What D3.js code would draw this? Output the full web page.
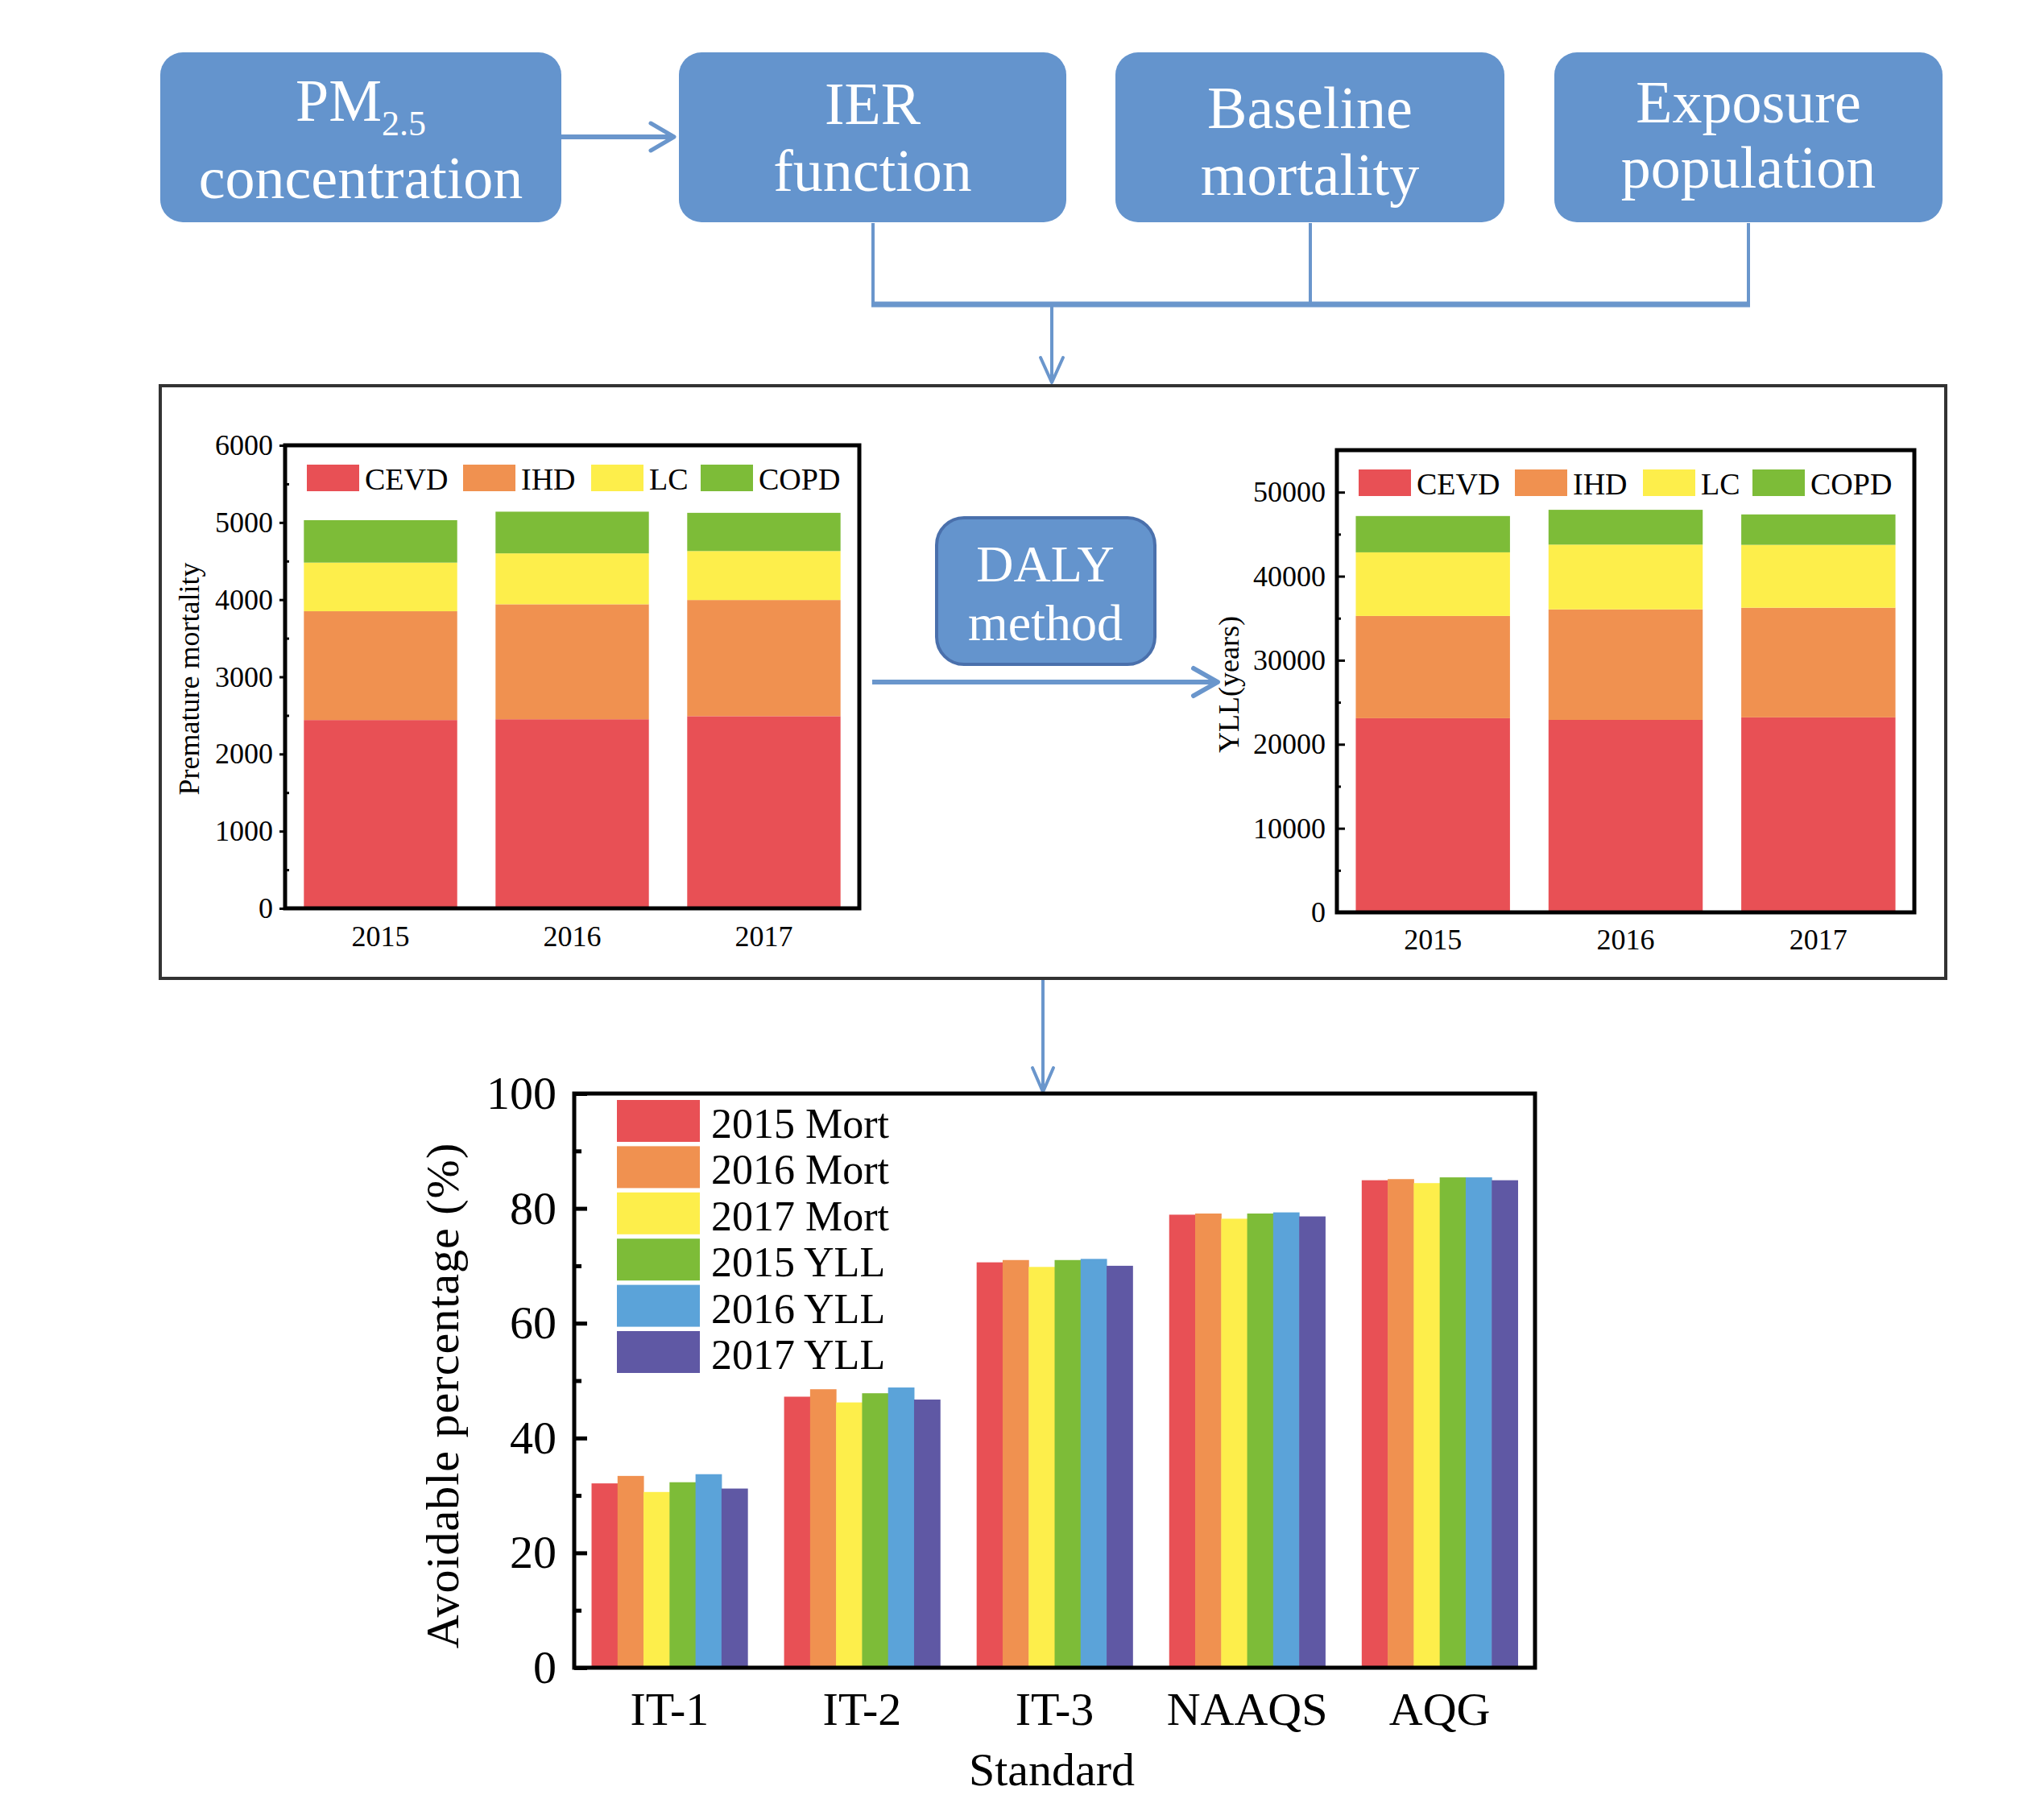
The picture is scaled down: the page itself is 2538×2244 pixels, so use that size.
<!DOCTYPE html>
<html>
<head>
<meta charset="utf-8">
<script src="https://cdn.jsdelivr.net/npm/d3@7/dist/d3.min.js"></script>
<style>
  body { margin: 0; background: #fff; }
  svg text { font-family: "Liberation Serif", "Times New Roman", serif; }
</style>
</head>
<body>
<div id="figure"></div>
<script>
// ---- data ----
var years = ["2015", "2016", "2017"];
var causes = ["CEVD", "IHD", "LC", "COPD"];

// premature mortality by cause
var mortCEVD = [2440, 2450, 2490];
var mortIHD  = [1410, 1490, 1505];
var mortLC   = [630, 660, 635];
var mortCOPD = [550, 540, 495];

// years of life lost by cause
var yllCEVD = [23100, 22900, 23200];
var yllIHD  = [12170, 13150, 13050];
var yllLC   = [7570, 7710, 7480];
var yllCOPD = [4320, 4140, 3620];

var mortTicks = [0, 1000, 2000, 3000, 4000, 5000, 6000];
var yllTicks = [0, 10000, 20000, 30000, 40000, 50000];

// avoidable percentage by standard
var standards = ["IT-1", "IT-2", "IT-3", "NAAQS", "AQG"];
var seriesNames = ["2015 Mort", "2016 Mort", "2017 Mort", "2015 YLL", "2016 YLL", "2017 YLL"];
var mort2015 = [32.1, 47.2, 70.6, 78.9, 84.9];
var mort2016 = [33.4, 48.5, 71.0, 79.1, 85.1];
var mort2017 = [30.6, 46.2, 69.8, 78.2, 84.4];
var yll2015  = [32.3, 47.8, 71.0, 79.1, 85.4];
var yll2016  = [33.7, 48.8, 71.2, 79.3, 85.4];
var yll2017  = [31.2, 46.7, 70.0, 78.6, 84.9];
var pctTicks = [0, 20, 40, 60, 80, 100];

// ---- styling ----
var causeColors = ["#e85055", "#f09150", "#fdee4b", "#7dbc38"];
var seriesColors = ["#e85055", "#f09150", "#fdee4b", "#7dbc38", "#5ba3d9", "#5f58a4"];
var boxBlue = "#6494cd";
var lineBlue = "#6a96cc";

var svg = d3.select("#figure").append("svg")
  .attr("width", 2538)
  .attr("height", 2244);

// ---- flow chart on top ----
var boxes = [
  {x: 199, y: 65, w: 498, h: 211, lines: ["PM", "concentration"], base: [150, 246], sub: "2.5"},
  {x: 843, y: 65, w: 481, h: 211, lines: ["IER", "function"], base: [154, 237]},
  {x: 1385, y: 65, w: 483, h: 211, lines: ["Baseline", "mortality"], base: [159, 242]},
  {x: 1930, y: 65, w: 482, h: 211, lines: ["Exposure", "population"], base: [152, 233]}
];

var flow = svg.append("g");
boxes.forEach(function(b) {
  flow.append("rect")
    .attr("x", b.x).attr("y", b.y)
    .attr("width", b.w).attr("height", b.h)
    .attr("rx", 28).attr("ry", 28)
    .attr("fill", boxBlue);
  b.lines.forEach(function(t, i) {
    var txt = flow.append("text")
      .attr("x", b.x + b.w / 2)
      .attr("y", b.base[i])
      .attr("text-anchor", "middle")
      .attr("fill", "#fff")
      .style("font-size", "74px")
      .text(t);
    if (i === 0 && b.sub) {
      txt.append("tspan")
        .attr("dy", 18)
        .style("font-size", "44px")
        .text(b.sub);
    }
  });
});

function chevron(g, pts, w) {
  g.append("path")
    .attr("d", d3.line()(pts))
    .attr("fill", "none")
    .attr("stroke", lineBlue)
    .attr("stroke-width", w)
    .attr("stroke-linecap", "round")
    .attr("stroke-linejoin", "round");
}
function seg(g, x1, y1, x2, y2, w) {
  g.append("line")
    .attr("x1", x1).attr("y1", y1).attr("x2", x2).attr("y2", y2)
    .attr("stroke", lineBlue).attr("stroke-width", w);
}

// PM2.5 -> IER
seg(flow, 697, 170, 834, 170, 6);
chevron(flow, [[808, 153], [837, 170], [808, 187]], 5);
// collecting lines
seg(flow, 1084, 277, 1084, 378, 4);
seg(flow, 1627, 277, 1627, 378, 4);
seg(flow, 2171, 277, 2171, 378, 4);
seg(flow, 1082, 378, 2173, 378, 7);
seg(flow, 1306, 378, 1306, 474, 4);
chevron(flow, [[1292, 444], [1306, 475], [1320, 444]], 4);

// middle frame
svg.append("rect")
  .attr("x", 199).attr("y", 479)
  .attr("width", 2217).attr("height", 736)
  .attr("fill", "none")
  .attr("stroke", "#333")
  .attr("stroke-width", 4);

// DALY box and arrows
svg.append("rect")
  .attr("x", 1163).attr("y", 643)
  .attr("width", 271).attr("height", 182)
  .attr("rx", 34).attr("ry", 34)
  .attr("fill", boxBlue)
  .attr("stroke", "#4a70ac")
  .attr("stroke-width", 4);
svg.append("text").attr("x", 1298).attr("y", 722)
  .attr("text-anchor", "middle").attr("fill", "#fff")
  .style("font-size", "64px").text("DALY");
svg.append("text").attr("x", 1298).attr("y", 795)
  .attr("text-anchor", "middle").attr("fill", "#fff")
  .style("font-size", "64px").text("method");

seg(svg, 1083, 847, 1509, 847, 6);
chevron(svg, [[1482, 830], [1512, 847], [1482, 864]], 6);

seg(svg, 1295, 1217, 1295, 1355, 4);
chevron(svg, [[1282, 1326], [1295, 1356], [1308, 1326]], 4);

// ---- stacked bar charts ----
function stackedChart(opt) {
  var rows = years.map(function(y, i) {
    var r = {year: y};
    causes.forEach(function(c, k) { r[c] = opt.values[k][i]; });
    return r;
  });
  var g = svg.append("g").attr("transform", `translate(${opt.left}, ${opt.top})`);

  var x = d3.scaleBand().domain(years).range([0, opt.width])
    .paddingInner(0.2).paddingOuter(0.098);
  var y = d3.scaleLinear().domain([0, opt.max]).range([opt.height, 0]);

  var stack = d3.stack().keys(causes)(rows);
  g.selectAll("g.layer")
    .data(stack)
    .enter().append("g")
    .attr("class", "layer")
    .attr("fill", (d, i) => causeColors[i])
    .selectAll("rect")
    .data(d => d)
    .enter().append("rect")
    .attr("x", d => x(d.data.year))
    .attr("width", x.bandwidth())
    .attr("y", d => y(d[1]))
    .attr("height", d => y(d[0]) - y(d[1]));

  // minor ticks
  g.append("g")
    .call(d3.axisLeft(y).tickValues(opt.minor).tickSize(-5).tickFormat(""))
    .call(a => a.select(".domain").remove())
    .selectAll("line").attr("stroke-width", 3);

  // major ticks and labels
  var yAxis = g.append("g")
    .call(d3.axisLeft(y).tickValues(opt.ticks).tickSize(opt.tickSize)
      .tickPadding(opt.pad).tickFormat(d3.format("d")));
  yAxis.select(".domain").remove();
  yAxis.selectAll("line").attr("stroke-width", 3);
  yAxis.selectAll("text").style("font-size", "36px").attr("fill", "#000");

  var xAxis = g.append("g")
    .attr("transform", `translate(0, ${opt.height})`)
    .call(d3.axisBottom(x).tickSize(0).tickPadding(opt.xpad));
  xAxis.select(".domain").remove();
  xAxis.selectAll("text").style("font-size", "36px").attr("fill", "#000");

  g.append("rect")
    .attr("width", opt.width).attr("height", opt.height)
    .attr("fill", "none").attr("stroke", "#000").attr("stroke-width", 5);

  // legend
  var legX = [27, 221, 380, 516];
  causes.forEach(function(c, i) {
    g.append("rect")
      .attr("x", legX[i]).attr("y", 24)
      .attr("width", 65).attr("height", 33)
      .attr("fill", causeColors[i]);
    g.append("text")
      .attr("x", legX[i] + 72).attr("y", 55)
      .style("font-size", "38px")
      .text(c);
  });

  svg.append("text")
    .attr("transform", `translate(${opt.titleX}, ${opt.titleY}) rotate(-90)`)
    .attr("text-anchor", "middle")
    .style("font-size", "36px")
    .text(opt.title);
}

stackedChart({
  left: 354, top: 553, width: 713, height: 575,
  max: 6000, ticks: mortTicks, minor: d3.range(500, 6000, 1000),
  tickSize: 7, pad: 8, xpad: 21,
  values: [mortCEVD, mortIHD, mortLC, mortCOPD],
  title: "Premature mortality", titleX: 247, titleY: 843
});

stackedChart({
  left: 1660, top: 559, width: 717, height: 574,
  max: 55000, ticks: yllTicks, minor: d3.range(5000, 55000, 10000),
  tickSize: -10, pad: 14, xpad: 20,
  values: [yllCEVD, yllIHD, yllLC, yllCOPD],
  title: "YLL(years)", titleX: 1538, titleY: 850
});

// ---- grouped bar chart at the bottom ----
var pctValues = [mort2015, mort2016, mort2017, yll2015, yll2016, yll2017];
var pctRows = standards.map(function(s, i) {
  return {standard: s, vals: pctValues.map(v => v[i])};
});

var bw = 1193, bh = 713;
var bottom = svg.append("g").attr("transform", "translate(713, 1358)");

var x0 = d3.scaleBand().domain(standards).range([0, bw])
  .paddingInner(0.19).paddingOuter(0.09);
var x1 = d3.scaleBand().domain(seriesNames).range([0, x0.bandwidth()]);
var yPct = d3.scaleLinear().domain([0, 100]).range([bh, 0]);

bottom.selectAll("g.group")
  .data(pctRows)
  .enter().append("g")
  .attr("class", "group")
  .attr("transform", d => `translate(${x0(d.standard)}, 0)`)
  .selectAll("rect")
  .data(d => d.vals.map((v, i) => ({name: seriesNames[i], value: v, color: seriesColors[i]})))
  .enter().append("rect")
  .attr("x", d => x1(d.name))
  .attr("width", x1.bandwidth() + 0.5)
  .attr("y", d => yPct(d.value))
  .attr("height", d => bh - yPct(d.value))
  .attr("fill", d => d.color);

bottom.append("g")
  .call(d3.axisLeft(yPct).tickValues(d3.range(10, 100, 20)).tickSize(-9).tickFormat(""))
  .call(a => a.select(".domain").remove())
  .selectAll("line").attr("stroke-width", 5);

var pctAxis = bottom.append("g")
  .call(d3.axisLeft(yPct).tickValues(pctTicks).tickSize(-16).tickPadding(22));
pctAxis.select(".domain").remove();
pctAxis.selectAll("line").attr("stroke-width", 5);
pctAxis.selectAll("text").style("font-size", "58px").attr("fill", "#000");

var stdAxis = bottom.append("g")
  .attr("transform", `translate(0, ${bh})`)
  .call(d3.axisBottom(x0).tickSize(0).tickPadding(30));
stdAxis.select(".domain").remove();
stdAxis.selectAll("text").style("font-size", "58px").attr("fill", "#000");

bottom.append("rect")
  .attr("width", bw).attr("height", bh)
  .attr("fill", "none").attr("stroke", "#000").attr("stroke-width", 5);

// legend
var legend = bottom.append("g").attr("transform", "translate(53, 8)");
legend.append("rect")
  .attr("x", -8).attr("y", -4)
  .attr("width", 340).attr("height", 352)
  .attr("fill", "#fff");
seriesNames.forEach(function(n, i) {
  legend.append("rect")
    .attr("x", 0).attr("y", i * 57.4)
    .attr("width", 103).attr("height", 52)
    .attr("fill", seriesColors[i]);
  legend.append("text")
    .attr("x", 117).attr("y", i * 57.4 + 47)
    .style("font-size", "52px")
    .text(n);
});

svg.append("text")
  .attr("transform", "translate(569, 1733) rotate(-90)")
  .attr("text-anchor", "middle")
  .style("font-size", "58px")
  .style("letter-spacing", "1px")
  .text("Avoidable percentage (%)");

svg.append("text")
  .attr("x", 1306).attr("y", 2217)
  .attr("text-anchor", "middle")
  .style("font-size", "58px")
  .text("Standard");
</script>
</body>
</html>
